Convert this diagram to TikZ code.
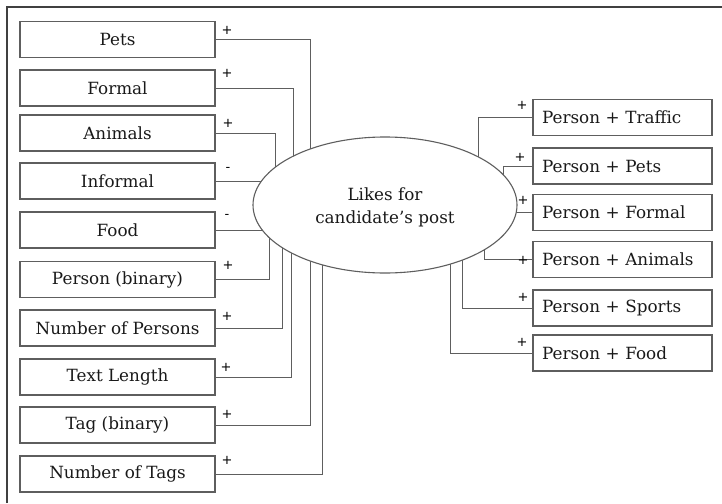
\documentclass[tikz,border=0pt]{standalone}
\usepackage{fontspec}
\setmainfont{DejaVu Serif}
\newfontfamily\signfont{DejaVu Sans}
\usetikzlibrary{calc,backgrounds,shapes.geometric}
\definecolor{linegray}{HTML}{5E5E5E}
\definecolor{framegray}{HTML}{404040}
\begin{document}
\begin{tikzpicture}[x=1pt,y=-1pt,
  boxtext/.style={font=\fontsize{16.8}{22.5}\selectfont, text=black!90},
  lbox/.style={boxtext, draw=linegray, line width=1.1pt, rectangle,
    minimum width=195pt, minimum height=36pt, inner sep=0pt},
  rbox/.style={boxtext, draw=linegray, line width=1.1pt, rectangle,
    text width=161pt, inner xsep=9pt, inner ysep=0pt, minimum height=36pt, align=left},
  target/.style={draw=linegray, line width=1.1pt, ellipse,
    minimum width=264pt, minimum height=136pt, inner sep=0pt, fill=white},
  sign/.style={font=\signfont\fontsize{13}{13}\selectfont, inner sep=0pt},
  link/.style={draw=linegray, line width=1pt}]
\useasboundingbox (0,0) rectangle (722,503);

% outer frame (top and left edges)
\draw[framegray, line width=1.4pt] (7,503) -- (7,7) -- (722,7);

% central outcome: ellipse with its label set slightly below centre
\node[target] (ell) at (385,205) {};
\node[boxtext, align=center, inner sep=0pt] (elltext) at (385,207.5) {Likes for\\candidate’s post};

% predictor boxes, left column
\node[lbox] (pets)    at (117.5,39.5) {Pets};
\node[lbox] (formal)  at (117.5,88)   {Formal};
\node[lbox] (animals) at (117.5,133)  {Animals};
\node[lbox] (informal)at (117.5,181)  {Informal};
\node[lbox] (food)    at (117.5,230)  {Food};
\node[lbox] (persb)   at (117.5,279.5){Person (binary)};
\node[lbox] (npers)   at (117.5,328)  {Number of Persons};
\node[lbox] (tlen)    at (117.5,377)  {Text Length};
\node[lbox] (tagb)    at (117.5,425)  {Tag (binary)};
\node[lbox] (ntags)   at (117.5,474)  {Number of Tags};

% interaction boxes, right column
\node[rbox] (rtraffic) at (622.5,117.5) {Person + Traffic};
\node[rbox] (rpets)    at (622.5,166)   {Person + Pets};
\node[rbox] (rformal)  at (622.5,212.5) {Person + Formal};
\node[rbox] (ranimals) at (622.5,259.5) {Person + Animals};
\node[rbox] (rsports)  at (622.5,308)   {Person + Sports};
\node[rbox] (rfood)    at (622.5,353)   {Person + Food};

% effect signs
\node[sign] (s1)  at (227,30)  {+};
\node[sign] (s2)  at (227,73)  {+};
\node[sign] (s3)  at (228,123) {+};
\node[sign] (s4)  at (228,169) {-};
\node[sign] (s5)  at (227,216) {-};
\node[sign] (s6)  at (228,265) {+};
\node[sign] (s7)  at (227,316) {+};
\node[sign] (s8)  at (226,367) {+};
\node[sign] (s9)  at (227,414) {+};
\node[sign] (s10) at (227,460) {+};
\node[sign] (r1)  at (522,105) {+};
\node[sign] (r2)  at (520,157) {+};
\node[sign] (r3)  at (523,200) {+};
\node[sign] (r4)  at (523,260) {+};
\node[sign] (r5)  at (523,297) {+};
\node[sign] (r6)  at (522,342) {+};

% connectors run behind the filled ellipse
\begin{scope}[on background layer]
  \draw[link] (pets.east)    -| ($(ell.center)+(-75,0)$);
  \draw[link] (formal.east)  -| ($(ell.center)+(-92,0)$);
  \draw[link] (animals.east) -| ($(ell.center)+(-110,0)$);
  \draw[link] (informal.east) -- (informal.east -| ell.center);
  \draw[link] (food.east)     -- (food.east -| ell.center);
  \draw[link] (persb.east)   -| ($(ell.center)+(-116,0)$);
  \draw[link] (npers.east)   -| ($(ell.center)+(-103,0)$);
  \draw[link] (tlen.east)    -| ($(ell.center)+(-94,0)$);
  \draw[link] (tagb.east)    -| ($(ell.center)+(-75,0)$);
  \draw[link] (ntags.east)   -| ($(ell.center)+(-63,0)$);
  \draw[link] (rtraffic.west) -| ($(ell.center)+(93,0)$);
  \draw[link] (rpets.west)    -| ($(ell.center)+(118,0)$);
  \draw[link] (rformal.west)  -- (rformal.west -| ell.center);
  \draw[link] (ranimals.west) -| ($(ell.center)+(99,0)$);
  \draw[link] (rsports.west)  -| ($(ell.center)+(77,0)$);
  \draw[link] (rfood.west)    -| ($(ell.center)+(65,0)$);
\end{scope}
\end{tikzpicture}
\end{document}
